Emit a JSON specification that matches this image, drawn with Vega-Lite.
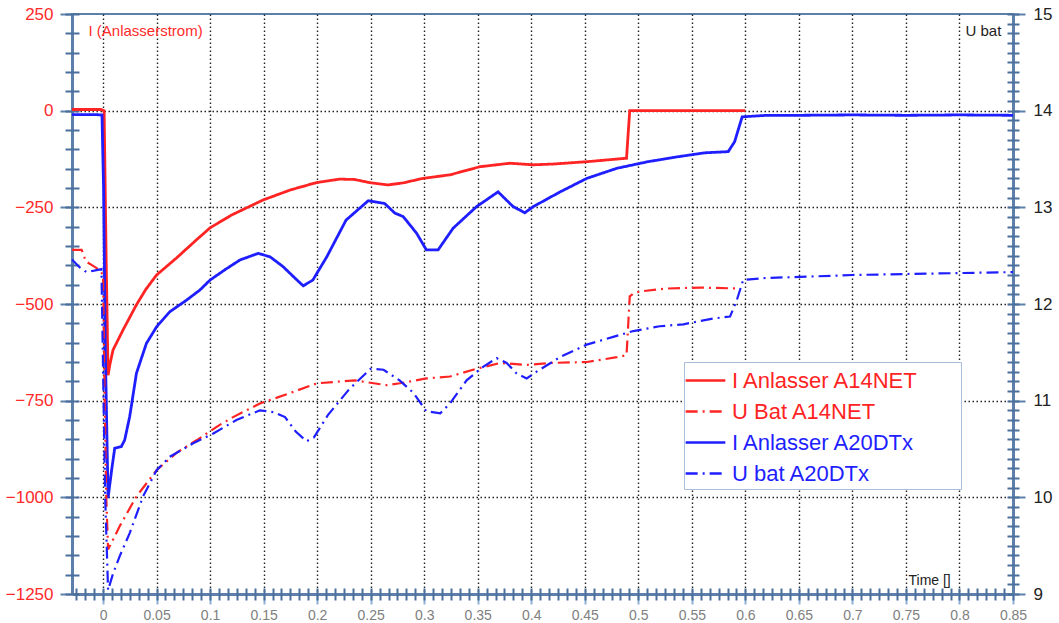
{
  "$schema": "https://vega.github.io/schema/vega-lite/v6.json",
  "width": 941,
  "height": 580,
  "autosize": "none",
  "padding": {"left": 72, "top": 14, "right": 46, "bottom": 29},
  "background": "white",
  "config": {
    "view": {"stroke": "#5d80aa", "strokeWidth": 2},
    "font": "Liberation Sans",
    "axis": {"labelFlush": false, "labelOverlap": false, "titleFontWeight": "normal", "labelFont": "Liberation Sans", "titleFont": "Liberation Sans"}
  },
  "datasets": {
    "current": [
      {"t": -0.029, "I": 3, "series": "I Anlasser A14NET"},
      {"t": -0.02, "I": 3, "series": "I Anlasser A14NET"},
      {"t": -0.01, "I": 3, "series": "I Anlasser A14NET"},
      {"t": -0.002, "I": 3, "series": "I Anlasser A14NET"},
      {"t": 0.001, "I": 0, "series": "I Anlasser A14NET"},
      {"t": 0.003, "I": -400, "series": "I Anlasser A14NET"},
      {"t": 0.0047, "I": -684, "series": "I Anlasser A14NET"},
      {"t": 0.0065, "I": -655, "series": "I Anlasser A14NET"},
      {"t": 0.0093, "I": -619, "series": "I Anlasser A14NET"},
      {"t": 0.0187, "I": -567, "series": "I Anlasser A14NET"},
      {"t": 0.0312, "I": -502, "series": "I Anlasser A14NET"},
      {"t": 0.04, "I": -462, "series": "I Anlasser A14NET"},
      {"t": 0.05, "I": -425, "series": "I Anlasser A14NET"},
      {"t": 0.0686, "I": -381, "series": "I Anlasser A14NET"},
      {"t": 0.0873, "I": -334, "series": "I Anlasser A14NET"},
      {"t": 0.1, "I": -303, "series": "I Anlasser A14NET"},
      {"t": 0.12, "I": -270, "series": "I Anlasser A14NET"},
      {"t": 0.1495, "I": -231, "series": "I Anlasser A14NET"},
      {"t": 0.175, "I": -205, "series": "I Anlasser A14NET"},
      {"t": 0.1994, "I": -186, "series": "I Anlasser A14NET"},
      {"t": 0.221, "I": -177, "series": "I Anlasser A14NET"},
      {"t": 0.235, "I": -178, "series": "I Anlasser A14NET"},
      {"t": 0.249, "I": -186, "series": "I Anlasser A14NET"},
      {"t": 0.266, "I": -192, "series": "I Anlasser A14NET"},
      {"t": 0.28, "I": -187, "series": "I Anlasser A14NET"},
      {"t": 0.299, "I": -175, "series": "I Anlasser A14NET"},
      {"t": 0.324, "I": -166, "series": "I Anlasser A14NET"},
      {"t": 0.352, "I": -145, "series": "I Anlasser A14NET"},
      {"t": 0.38, "I": -136, "series": "I Anlasser A14NET"},
      {"t": 0.402, "I": -140, "series": "I Anlasser A14NET"},
      {"t": 0.4206, "I": -138, "series": "I Anlasser A14NET"},
      {"t": 0.4518, "I": -132, "series": "I Anlasser A14NET"},
      {"t": 0.489, "I": -123, "series": "I Anlasser A14NET"},
      {"t": 0.4905, "I": -60, "series": "I Anlasser A14NET"},
      {"t": 0.492, "I": 0, "series": "I Anlasser A14NET"},
      {"t": 0.5, "I": 0, "series": "I Anlasser A14NET"},
      {"t": 0.55, "I": 0, "series": "I Anlasser A14NET"},
      {"t": 0.6, "I": 0, "series": "I Anlasser A14NET"},
      {"t": -0.029, "I": -10, "series": "I Anlasser A20DTx"},
      {"t": -0.01, "I": -10, "series": "I Anlasser A20DTx"},
      {"t": -0.001, "I": -11, "series": "I Anlasser A20DTx"},
      {"t": 0.0005, "I": -200, "series": "I Anlasser A20DTx"},
      {"t": 0.002, "I": -600, "series": "I Anlasser A20DTx"},
      {"t": 0.0047, "I": -1002, "series": "I Anlasser A20DTx"},
      {"t": 0.008, "I": -930, "series": "I Anlasser A20DTx"},
      {"t": 0.0109, "I": -873, "series": "I Anlasser A20DTx"},
      {"t": 0.017, "I": -869, "series": "I Anlasser A20DTx"},
      {"t": 0.0202, "I": -852, "series": "I Anlasser A20DTx"},
      {"t": 0.0249, "I": -791, "series": "I Anlasser A20DTx"},
      {"t": 0.0312, "I": -679, "series": "I Anlasser A20DTx"},
      {"t": 0.0405, "I": -602, "series": "I Anlasser A20DTx"},
      {"t": 0.05, "I": -559, "series": "I Anlasser A20DTx"},
      {"t": 0.0624, "I": -520, "series": "I Anlasser A20DTx"},
      {"t": 0.078, "I": -490, "series": "I Anlasser A20DTx"},
      {"t": 0.0904, "I": -464, "series": "I Anlasser A20DTx"},
      {"t": 0.1, "I": -438, "series": "I Anlasser A20DTx"},
      {"t": 0.1146, "I": -410, "series": "I Anlasser A20DTx"},
      {"t": 0.128, "I": -386, "series": "I Anlasser A20DTx"},
      {"t": 0.145, "I": -369, "series": "I Anlasser A20DTx"},
      {"t": 0.156, "I": -378, "series": "I Anlasser A20DTx"},
      {"t": 0.168, "I": -403, "series": "I Anlasser A20DTx"},
      {"t": 0.18, "I": -435, "series": "I Anlasser A20DTx"},
      {"t": 0.187, "I": -453, "series": "I Anlasser A20DTx"},
      {"t": 0.196, "I": -438, "series": "I Anlasser A20DTx"},
      {"t": 0.209, "I": -378, "series": "I Anlasser A20DTx"},
      {"t": 0.227, "I": -283, "series": "I Anlasser A20DTx"},
      {"t": 0.2477, "I": -233, "series": "I Anlasser A20DTx"},
      {"t": 0.263, "I": -240, "series": "I Anlasser A20DTx"},
      {"t": 0.2726, "I": -265, "series": "I Anlasser A20DTx"},
      {"t": 0.2804, "I": -274, "series": "I Anlasser A20DTx"},
      {"t": 0.2929, "I": -317, "series": "I Anlasser A20DTx"},
      {"t": 0.302, "I": -360, "series": "I Anlasser A20DTx"},
      {"t": 0.313, "I": -360, "series": "I Anlasser A20DTx"},
      {"t": 0.327, "I": -304, "series": "I Anlasser A20DTx"},
      {"t": 0.349, "I": -248, "series": "I Anlasser A20DTx"},
      {"t": 0.369, "I": -210, "series": "I Anlasser A20DTx"},
      {"t": 0.383, "I": -248, "series": "I Anlasser A20DTx"},
      {"t": 0.394, "I": -264, "series": "I Anlasser A20DTx"},
      {"t": 0.402, "I": -248, "series": "I Anlasser A20DTx"},
      {"t": 0.427, "I": -210, "series": "I Anlasser A20DTx"},
      {"t": 0.452, "I": -175, "series": "I Anlasser A20DTx"},
      {"t": 0.48, "I": -149, "series": "I Anlasser A20DTx"},
      {"t": 0.509, "I": -132, "series": "I Anlasser A20DTx"},
      {"t": 0.535, "I": -120, "series": "I Anlasser A20DTx"},
      {"t": 0.562, "I": -109, "series": "I Anlasser A20DTx"},
      {"t": 0.584, "I": -106, "series": "I Anlasser A20DTx"},
      {"t": 0.59, "I": -80, "series": "I Anlasser A20DTx"},
      {"t": 0.597, "I": -16, "series": "I Anlasser A20DTx"},
      {"t": 0.62, "I": -12, "series": "I Anlasser A20DTx"},
      {"t": 0.65, "I": -12, "series": "I Anlasser A20DTx"},
      {"t": 0.7, "I": -11, "series": "I Anlasser A20DTx"},
      {"t": 0.75, "I": -12, "series": "I Anlasser A20DTx"},
      {"t": 0.8, "I": -11, "series": "I Anlasser A20DTx"},
      {"t": 0.85, "I": -12, "series": "I Anlasser A20DTx"}
    ],
    "voltage": [
      {"t": -0.029, "U": 12.56, "series": "U Bat A14NET"},
      {"t": -0.02, "U": 12.56, "series": "U Bat A14NET"},
      {"t": -0.016, "U": 12.44, "series": "U Bat A14NET"},
      {"t": -0.01, "U": 12.4, "series": "U Bat A14NET"},
      {"t": -0.003, "U": 12.35, "series": "U Bat A14NET"},
      {"t": 0.0, "U": 12.3, "series": "U Bat A14NET"},
      {"t": 0.0015, "U": 11.0, "series": "U Bat A14NET"},
      {"t": 0.003, "U": 10.0, "series": "U Bat A14NET"},
      {"t": 0.0047, "U": 9.46, "series": "U Bat A14NET"},
      {"t": 0.0155, "U": 9.7, "series": "U Bat A14NET"},
      {"t": 0.0312, "U": 10.01, "series": "U Bat A14NET"},
      {"t": 0.05, "U": 10.28, "series": "U Bat A14NET"},
      {"t": 0.0686, "U": 10.46, "series": "U Bat A14NET"},
      {"t": 0.0873, "U": 10.59, "series": "U Bat A14NET"},
      {"t": 0.109, "U": 10.75, "series": "U Bat A14NET"},
      {"t": 0.1215, "U": 10.83, "series": "U Bat A14NET"},
      {"t": 0.1465, "U": 10.97, "series": "U Bat A14NET"},
      {"t": 0.175, "U": 11.08, "series": "U Bat A14NET"},
      {"t": 0.2, "U": 11.18, "series": "U Bat A14NET"},
      {"t": 0.235, "U": 11.21, "series": "U Bat A14NET"},
      {"t": 0.265, "U": 11.16, "series": "U Bat A14NET"},
      {"t": 0.2773, "U": 11.18, "series": "U Bat A14NET"},
      {"t": 0.302, "U": 11.23, "series": "U Bat A14NET"},
      {"t": 0.324, "U": 11.25, "series": "U Bat A14NET"},
      {"t": 0.349, "U": 11.33, "series": "U Bat A14NET"},
      {"t": 0.371, "U": 11.39, "series": "U Bat A14NET"},
      {"t": 0.396, "U": 11.37, "series": "U Bat A14NET"},
      {"t": 0.4175, "U": 11.39, "series": "U Bat A14NET"},
      {"t": 0.452, "U": 11.4, "series": "U Bat A14NET"},
      {"t": 0.48, "U": 11.45, "series": "U Bat A14NET"},
      {"t": 0.489, "U": 11.47, "series": "U Bat A14NET"},
      {"t": 0.492, "U": 12.08, "series": "U Bat A14NET"},
      {"t": 0.4956, "U": 12.11, "series": "U Bat A14NET"},
      {"t": 0.5016, "U": 12.13, "series": "U Bat A14NET"},
      {"t": 0.5265, "U": 12.16, "series": "U Bat A14NET"},
      {"t": 0.5577, "U": 12.17, "series": "U Bat A14NET"},
      {"t": 0.595, "U": 12.16, "series": "U Bat A14NET"},
      {"t": -0.029, "U": 12.46, "series": "U bat A20DTx"},
      {"t": -0.022, "U": 12.38, "series": "U bat A20DTx"},
      {"t": -0.0155, "U": 12.33, "series": "U bat A20DTx"},
      {"t": -0.006, "U": 12.35, "series": "U bat A20DTx"},
      {"t": -0.0015, "U": 12.36, "series": "U bat A20DTx"},
      {"t": 0.0005, "U": 11.0, "series": "U bat A20DTx"},
      {"t": 0.002, "U": 10.0, "series": "U bat A20DTx"},
      {"t": 0.0047, "U": 9.04, "series": "U bat A20DTx"},
      {"t": 0.0093, "U": 9.21, "series": "U bat A20DTx"},
      {"t": 0.0155, "U": 9.39, "series": "U bat A20DTx"},
      {"t": 0.0249, "U": 9.63, "series": "U bat A20DTx"},
      {"t": 0.0374, "U": 10.01, "series": "U bat A20DTx"},
      {"t": 0.05, "U": 10.28, "series": "U bat A20DTx"},
      {"t": 0.0624, "U": 10.42, "series": "U bat A20DTx"},
      {"t": 0.0842, "U": 10.56, "series": "U bat A20DTx"},
      {"t": 0.103, "U": 10.66, "series": "U bat A20DTx"},
      {"t": 0.1246, "U": 10.8, "series": "U bat A20DTx"},
      {"t": 0.1465, "U": 10.9, "series": "U bat A20DTx"},
      {"t": 0.16, "U": 10.88, "series": "U bat A20DTx"},
      {"t": 0.17, "U": 10.83, "series": "U bat A20DTx"},
      {"t": 0.18, "U": 10.68, "series": "U bat A20DTx"},
      {"t": 0.19, "U": 10.58, "series": "U bat A20DTx"},
      {"t": 0.197, "U": 10.62, "series": "U bat A20DTx"},
      {"t": 0.21, "U": 10.85, "series": "U bat A20DTx"},
      {"t": 0.23, "U": 11.12, "series": "U bat A20DTx"},
      {"t": 0.25, "U": 11.33, "series": "U bat A20DTx"},
      {"t": 0.262, "U": 11.32, "series": "U bat A20DTx"},
      {"t": 0.277, "U": 11.21, "series": "U bat A20DTx"},
      {"t": 0.29, "U": 11.08, "series": "U bat A20DTx"},
      {"t": 0.302, "U": 10.89, "series": "U bat A20DTx"},
      {"t": 0.315, "U": 10.87, "series": "U bat A20DTx"},
      {"t": 0.324, "U": 10.97, "series": "U bat A20DTx"},
      {"t": 0.3396, "U": 11.21, "series": "U bat A20DTx"},
      {"t": 0.355, "U": 11.35, "series": "U bat A20DTx"},
      {"t": 0.3677, "U": 11.44, "series": "U bat A20DTx"},
      {"t": 0.377, "U": 11.39, "series": "U bat A20DTx"},
      {"t": 0.3864, "U": 11.28, "series": "U bat A20DTx"},
      {"t": 0.3957, "U": 11.23, "series": "U bat A20DTx"},
      {"t": 0.405, "U": 11.3, "series": "U bat A20DTx"},
      {"t": 0.4268, "U": 11.45, "series": "U bat A20DTx"},
      {"t": 0.4518, "U": 11.58, "series": "U bat A20DTx"},
      {"t": 0.4766, "U": 11.66, "series": "U bat A20DTx"},
      {"t": 0.4953, "U": 11.72, "series": "U bat A20DTx"},
      {"t": 0.52, "U": 11.77, "series": "U bat A20DTx"},
      {"t": 0.542, "U": 11.79, "series": "U bat A20DTx"},
      {"t": 0.57, "U": 11.85, "series": "U bat A20DTx"},
      {"t": 0.5857, "U": 11.87, "series": "U bat A20DTx"},
      {"t": 0.592, "U": 12.04, "series": "U bat A20DTx"},
      {"t": 0.598, "U": 12.25, "series": "U bat A20DTx"},
      {"t": 0.62, "U": 12.27, "series": "U bat A20DTx"},
      {"t": 0.651, "U": 12.28, "series": "U bat A20DTx"},
      {"t": 0.7, "U": 12.3, "series": "U bat A20DTx"},
      {"t": 0.75, "U": 12.31, "series": "U bat A20DTx"},
      {"t": 0.8, "U": 12.32, "series": "U bat A20DTx"},
      {"t": 0.85, "U": 12.33, "series": "U bat A20DTx"}
    ]
  },
  "layer": [
    {
      "data": {"name": "current"},
      "mark": {"type": "line", "strokeWidth": 2.8},
      "encoding": {
        "x": {"field": "t", "type": "quantitative", "scale": {"domain": [-0.029, 0.85], "nice": false, "zero": false},
          "axis": {"orient": "bottom", "values": [0, 0.05, 0.1, 0.15, 0.2, 0.25, 0.3, 0.35, 0.4, 0.45, 0.5, 0.55, 0.6, 0.65, 0.7, 0.75, 0.8, 0.85],
            "format": "~g", "grid": false, "domain": true, "domainColor": "#5d80aa", "domainWidth": 3,
            "ticks": true, "tickColor": "#8eaed6", "tickSize": 10, "tickWidth": 2,
            "labelColor": "#808080", "labelFontSize": 14, "labelPadding": 4,
            "title": "Time []", "titleX": 836, "titleY": -14, "titleAlign": "left", "titleBaseline": "middle", "titleAnchor": "start", "titleFontSize": 14, "titleColor": "#222222"}},
        "y": {"field": "I", "type": "quantitative", "scale": {"domain": [-1250, 250], "nice": false, "zero": false},
          "axis": {"orient": "left", "values": [-1250, -1000, -750, -500, -250, 0, 250], "format": "d", "grid": false,
            "domainColor": "#5d80aa", "domainWidth": 3, "tickColor": "#5d80aa", "tickSize": 12, "tickWidth": 2,
            "labelColor": "#ff2a2a", "labelFontSize": 17, "labelPadding": 7,
            "title": "I (Anlasserstrom)", "titleAngle": 0, "titleX": 16, "titleY": 16, "titleAlign": "left", "titleBaseline": "middle", "titleAnchor": "start", "titleColor": "#ff2a2a", "titleFontSize": 15}},
        "color": {"field": "series", "type": "nominal",
          "scale": {"domain": ["I Anlasser A14NET", "U Bat A14NET", "I Anlasser A20DTx", "U bat A20DTx"], "range": ["#ff2424", "#ff2424", "#1e1eff", "#1e1eff"]},
          "legend": {"orient": "none", "legendX": 612, "legendY": 348, "title": " ", "titleOrient": "right", "titlePadding": 38, "titleFontSize": 2, "fillColor": "white", "strokeColor": "#a8bfdc", "padding": 4,
            "symbolType": "M-1.5,0L1.5,0", "symbolSize": 700, "symbolStrokeWidth": 2.5, "symbolOffset": 3, "labelOffset": 12, "labelFontSize": 22, "labelFont": "Liberation Sans", "labelLimit": 500, "rowPadding": 5,
            "encode": {"labels": {"update": {"fill": {"signal": "indexof(datum.value, 'A14NET') >= 0 ? '#ff2424' : '#1e1eff'"}}}}}},
        "strokeDash": {"field": "series", "type": "nominal",
          "scale": {"domain": ["I Anlasser A14NET", "U Bat A14NET", "I Anlasser A20DTx", "U bat A20DTx"], "range": [[1, 0], [12, 5, 2, 5], [1, 0], [12, 5, 2, 5]]},
          "legend": {"orient": "none", "legendX": 612, "legendY": 348, "title": " ", "titleOrient": "right", "titlePadding": 38, "titleFontSize": 2, "fillColor": "white", "strokeColor": "#a8bfdc", "padding": 4,
            "symbolType": "M-1.5,0L1.5,0", "symbolSize": 700, "symbolStrokeWidth": 2.5, "symbolOffset": 3, "labelOffset": 12, "labelFontSize": 22, "labelFont": "Liberation Sans", "labelLimit": 500, "rowPadding": 5,
            "encode": {"labels": {"update": {"fill": {"signal": "indexof(datum.value, 'A14NET') >= 0 ? '#ff2424' : '#1e1eff'"}}}}}}
      }
    },
    {
      "data": {"name": "voltage"},
      "mark": {"type": "line", "strokeWidth": 2.2},
      "encoding": {
        "x": {"field": "t", "type": "quantitative", "scale": {"domain": [-0.029, 0.85], "nice": false, "zero": false},
          "axis": {"orient": "bottom", "values": [-0.025, -0.01667, -0.00833, 0, 0.00833, 0.01667, 0.025, 0.03333, 0.04167, 0.05, 0.05833, 0.06667, 0.075, 0.08333, 0.09167, 0.1, 0.10833, 0.11667, 0.125, 0.13333, 0.14167, 0.15, 0.15833, 0.16667, 0.175, 0.18333, 0.19167, 0.2, 0.20833, 0.21667, 0.225, 0.23333, 0.24167, 0.25, 0.25833, 0.26667, 0.275, 0.28333, 0.29167, 0.3, 0.30833, 0.31667, 0.325, 0.33333, 0.34167, 0.35, 0.35833, 0.36667, 0.375, 0.38333, 0.39167, 0.4, 0.40833, 0.41667, 0.425, 0.43333, 0.44167, 0.45, 0.45833, 0.46667, 0.475, 0.48333, 0.49167, 0.5, 0.50833, 0.51667, 0.525, 0.53333, 0.54167, 0.55, 0.55833, 0.56667, 0.575, 0.58333, 0.59167, 0.6, 0.60833, 0.61667, 0.625, 0.63333, 0.64167, 0.65, 0.65833, 0.66667, 0.675, 0.68333, 0.69167, 0.7, 0.70833, 0.71667, 0.725, 0.73333, 0.74167, 0.75, 0.75833, 0.76667, 0.775, 0.78333, 0.79167, 0.8, 0.80833, 0.81667, 0.825, 0.83333, 0.84167, 0.85],
            "grid": false, "domain": false, "labels": false, "title": null, "ticks": true, "tickColor": "#4a6f9c", "tickSize": 6, "tickWidth": 2}},
        "y": {"field": "U", "type": "quantitative", "scale": {"domain": [9, 15], "nice": false, "zero": false},
          "axis": {"orient": "right", "values": [9, 10, 11, 12, 13, 14, 15], "grid": false,
            "domainColor": "#5d80aa", "domainWidth": 3, "tickColor": "#5d80aa", "tickSize": 12, "tickWidth": 2,
            "labelColor": "#222222", "labelFontSize": 17, "labelPadding": 8,
            "title": "U bat", "titleAngle": 0, "titleX": -48, "titleY": 16, "titleAlign": "left", "titleBaseline": "middle", "titleAnchor": "start", "titleColor": "#222222", "titleFontSize": 15}},
        "color": {"field": "series", "type": "nominal"},
        "strokeDash": {"field": "series", "type": "nominal"}
      }
    },
    {
      "data": {"name": "current"},
      "mark": {"type": "line", "opacity": 0},
      "encoding": {
        "x": {"field": "t", "type": "quantitative", "scale": {"domain": [-0.029, 0.85], "nice": false, "zero": false},
          "axis": {"orient": "bottom", "values": [-0.025, -0.01667, -0.00833, 0, 0.00833, 0.01667, 0.025, 0.03333, 0.04167, 0.05, 0.05833, 0.06667, 0.075, 0.08333, 0.09167, 0.1, 0.10833, 0.11667, 0.125, 0.13333, 0.14167, 0.15, 0.15833, 0.16667, 0.175, 0.18333, 0.19167, 0.2, 0.20833, 0.21667, 0.225, 0.23333, 0.24167, 0.25, 0.25833, 0.26667, 0.275, 0.28333, 0.29167, 0.3, 0.30833, 0.31667, 0.325, 0.33333, 0.34167, 0.35, 0.35833, 0.36667, 0.375, 0.38333, 0.39167, 0.4, 0.40833, 0.41667, 0.425, 0.43333, 0.44167, 0.45, 0.45833, 0.46667, 0.475, 0.48333, 0.49167, 0.5, 0.50833, 0.51667, 0.525, 0.53333, 0.54167, 0.55, 0.55833, 0.56667, 0.575, 0.58333, 0.59167, 0.6, 0.60833, 0.61667, 0.625, 0.63333, 0.64167, 0.65, 0.65833, 0.66667, 0.675, 0.68333, 0.69167, 0.7, 0.70833, 0.71667, 0.725, 0.73333, 0.74167, 0.75, 0.75833, 0.76667, 0.775, 0.78333, 0.79167, 0.8, 0.80833, 0.81667, 0.825, 0.83333, 0.84167, 0.85],
            "grid": false, "domain": false, "labels": false, "title": null, "ticks": true, "tickColor": "#4a6f9c", "tickSize": -6, "tickWidth": 2}},
        "y": {"field": "I", "type": "quantitative", "scale": {"domain": [-1250, 250], "nice": false, "zero": false},
          "axis": {"orient": "left", "values": [-1250, -1200, -1150, -1100, -1050, -1000, -950, -900, -850, -800, -750, -700, -650, -600, -550, -500, -450, -400, -350, -300, -250, -200, -150, -100, -50, 0, 50, 100, 150, 200, 250],
            "grid": false, "domain": false, "labels": false, "title": null, "ticks": true, "tickColor": "#4a6f9c", "tickSize": 7, "tickWidth": 2}}
      }
    },
    {
      "data": {"name": "current"},
      "mark": {"type": "line", "opacity": 0},
      "encoding": {
        "x": {"field": "t", "type": "quantitative", "scale": {"domain": [-0.029, 0.85], "nice": false, "zero": false}, "axis": null},
        "y": {"field": "I", "type": "quantitative", "scale": {"domain": [-1250, 250], "nice": false, "zero": false},
          "axis": {"orient": "left", "values": [-1250, -1200, -1150, -1100, -1050, -1000, -950, -900, -850, -800, -750, -700, -650, -600, -550, -500, -450, -400, -350, -300, -250, -200, -150, -100, -50, 0, 50, 100, 150, 200, 250],
            "grid": false, "domain": false, "labels": false, "title": null, "ticks": true, "tickColor": "#4a6f9c", "tickSize": -7, "tickWidth": 2}}
      }
    },
    {
      "data": {"name": "voltage"},
      "mark": {"type": "line", "opacity": 0},
      "encoding": {
        "x": {"field": "t", "type": "quantitative", "scale": {"domain": [-0.029, 0.85], "nice": false, "zero": false}, "axis": null},
        "y": {"field": "U", "type": "quantitative", "scale": {"domain": [9, 15], "nice": false, "zero": false},
          "axis": {"orient": "right", "values": [9, 9.1, 9.2, 9.3, 9.4, 9.5, 9.6, 9.7, 9.8, 9.9, 10, 10.1, 10.2, 10.3, 10.4, 10.5, 10.6, 10.7, 10.8, 10.9, 11, 11.1, 11.2, 11.3, 11.4, 11.5, 11.6, 11.7, 11.8, 11.9, 12, 12.1, 12.2, 12.3, 12.4, 12.5, 12.6, 12.7, 12.8, 12.9, 13, 13.1, 13.2, 13.3, 13.4, 13.5, 13.6, 13.7, 13.8, 13.9, 14, 14.1, 14.2, 14.3, 14.4, 14.5, 14.6, 14.7, 14.8, 14.9, 15],
            "grid": false, "domain": false, "labels": false, "title": null, "ticks": true, "tickColor": "#4a6f9c", "tickSize": 6, "tickWidth": 2}}
      }
    },
    {
      "data": {"name": "voltage"},
      "mark": {"type": "line", "opacity": 0},
      "encoding": {
        "x": {"field": "t", "type": "quantitative", "scale": {"domain": [-0.029, 0.85], "nice": false, "zero": false}, "axis": null},
        "y": {"field": "U", "type": "quantitative", "scale": {"domain": [9, 15], "nice": false, "zero": false},
          "axis": {"orient": "right", "values": [9, 9.1, 9.2, 9.3, 9.4, 9.5, 9.6, 9.7, 9.8, 9.9, 10, 10.1, 10.2, 10.3, 10.4, 10.5, 10.6, 10.7, 10.8, 10.9, 11, 11.1, 11.2, 11.3, 11.4, 11.5, 11.6, 11.7, 11.8, 11.9, 12, 12.1, 12.2, 12.3, 12.4, 12.5, 12.6, 12.7, 12.8, 12.9, 13, 13.1, 13.2, 13.3, 13.4, 13.5, 13.6, 13.7, 13.8, 13.9, 14, 14.1, 14.2, 14.3, 14.4, 14.5, 14.6, 14.7, 14.8, 14.9, 15],
            "grid": false, "domain": false, "labels": false, "title": null, "ticks": true, "tickColor": "#4a6f9c", "tickSize": -6, "tickWidth": 2}}
      }
    },
    {
      "data": {"name": "current"},
      "mark": {"type": "line", "opacity": 0},
      "encoding": {
        "x": {"field": "t", "type": "quantitative", "scale": {"domain": [-0.029, 0.85], "nice": false, "zero": false},
          "axis": {"orient": "bottom", "values": [0, 0.05, 0.1, 0.15, 0.2, 0.25, 0.3, 0.35, 0.4, 0.45, 0.5, 0.55, 0.6, 0.65, 0.7, 0.75, 0.8],
            "grid": true, "gridColor": "#222222", "gridDash": [1.5, 2.5], "gridWidth": 1.4, "domain": false, "labels": false, "ticks": false, "title": null}},
        "y": {"field": "I", "type": "quantitative", "scale": {"domain": [-1250, 250], "nice": false, "zero": false},
          "axis": {"orient": "left", "values": [-1000, -750, -500, -250, 0],
            "grid": true, "gridColor": "#222222", "gridDash": [1.5, 2.5], "gridWidth": 1.4, "domain": false, "labels": false, "ticks": false, "title": null}}
      }
    }
  ],
  "resolve": {"scale": {"y": "independent"}, "axis": {"x": "independent", "y": "independent"}}
}
